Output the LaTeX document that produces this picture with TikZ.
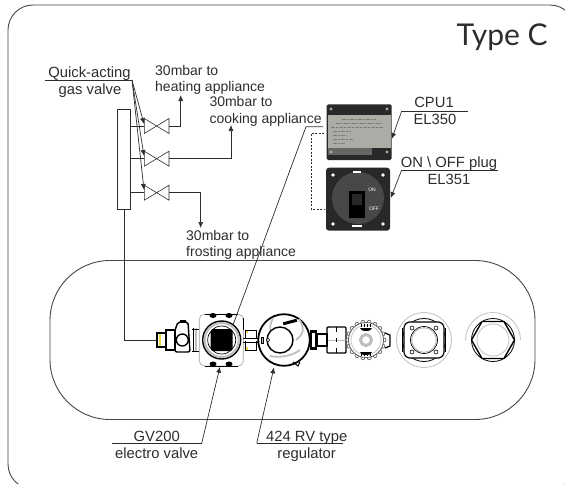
\documentclass[tikz,border=0pt]{standalone}
\usepackage{xcolor}
\usepackage{fontspec}
\setmainfont{Liberation Sans}
\newfontfamily\typefont{Lato}
\usetikzlibrary{arrows.meta,calc}
\definecolor{inkline}{RGB}{45,45,45}
\definecolor{frameline}{RGB}{70,70,70}
\definecolor{partgray}{RGB}{190,190,190}
\definecolor{brassmark}{RGB}{235,215,60}
\definecolor{photodark}{RGB}{40,40,40}
\definecolor{photomid}{RGB}{72,72,72}
\definecolor{photolabel}{RGB}{172,172,166}
\definecolor{phototext}{RGB}{125,125,120}
\tikzset{
    leader/.style={inkline, line width=0.7pt},
    leadertip/.style={inkline, line width=0.7pt, -{Latex[length=6pt,width=5pt]}},
    pipe/.style={inkline, line width=0.7pt},
    lbl/.style={font=\fontsize{14.8}{16}\selectfont, text=inkline, inner sep=0pt, anchor=base},
    lblleft/.style={lbl, anchor=base west},
    gaslbl/.style={lblleft, font=\fontsize{14}{16}\selectfont},
    blackpart/.style={black, line width=1.4pt},
    graypart/.style={partgray, line width=1pt},
    bolt/.style={black, line width=0.6pt, fill=white}
}
\begin{document}
\begin{tikzpicture}[x=1pt,y=-1pt]
    \useasboundingbox (0,0) rectangle (565,483);
    \clip (0,0) rectangle (565,483);

    % Frame and tank outline
    \draw[frameline, line width=0.9pt, rounded corners=25pt] (8,5) rectangle (575,489);
    \draw[frameline, line width=0.9pt, rounded corners=60pt] (50,260.5) rectangle (535,419.5);
    \node[lbl, anchor=base west, font=\typefont\fontsize{30}{32}\selectfont] (title) at (456.5,45) {Type C};

    % Gas manifold and valves
    \node[draw=inkline, line width=0.8pt, fill=white, minimum width=13.4pt, minimum height=100pt, inner sep=0pt] (manifold) at (124,159.3) {};
    \foreach \name/\y in {heat/126,cook/158.7,frost/192.7} {
        \draw[inkline, line width=0.6pt] (144.3,\y-7.5) -- (169,\y+7.5) -- (169,\y-7.5) -- (144.3,\y+7.5) -- cycle;
        \coordinate (\name-in) at (144.3,\y);
        \coordinate (\name-out) at (169,\y);
        \coordinate (\name-pipe) at (130.7,\y);
        \draw[pipe] (\name-pipe) -- (\name-in);
    }
    \coordinate (heat-end) at (180.7,95);
    \coordinate (cook-end) at (231,125);
    \coordinate (frost-end) at (200.7,228);
    \draw[leadertip] (heat-out) -| (heat-end);
    \draw[leadertip] (cook-out) -| (cook-end);
    \draw[leadertip] (frost-out) -| (frost-end);

    % Valve labels
    \node[lbl] (quick) at (89.5,77.3) {Quick-acting};
    \node[lbl] (gasvalve) at (90,94) {gas valve};
    \node[gaslbl] (heatA) at (155,75) {30mbar to};
    \node[gaslbl] (heatB) at (155,91.7) {heating appliance};
    \node[gaslbl] (cookA) at (209.3,106.7) {30mbar to};
    \node[gaslbl] (cookB) at (209.3,123.3) {cooking appliance};
    \node[gaslbl] (frostA) at (186,240.7) {30mbar to};
    \node[gaslbl] (frostB) at (186,256.7) {frosting appliance};

    \coordinate (quick-left) at (45,80);
    \coordinate (quick-right) at (132,80);
    \draw[leader] (quick-left) -- (quick-right);
    \foreach \name/\y in {heat/124,cook/156,frost/190} {
        \coordinate (\name-tip) at (144,\y);
        \draw[leadertip] (quick-right) -- (\name-tip);
    }

    % Pipe from manifold to the fitting
    \coordinate (manifold-foot) at (124,209.3);
    \coordinate (fitting-in) at (157,340);
    \draw[pipe] (manifold-foot) |- (fitting-in);

    % CPU photo
    \fill[photodark, rounded corners=1.5pt] (326.7,104.3) rectangle (391.7,160);
    \fill[photolabel] (328,115) rectangle (390.5,148);
    \fill[photomid!70!photolabel] (328,148) rectangle (372,155);
    \foreach \x/\y/\w in {342/119/34,336/123/46,331/127/52,333/131/18,333/135/14,333/139/20,333/143/12} {
        \draw[phototext, line width=0.5pt, dash pattern=on 4pt off 1pt on 2pt off 1pt] (\x,\y) -- ++(\w,0);
    }
    \foreach \x/\y in {331/109,387/109,331/152,387/152} {
        \fill[photolabel] (\x,\y) circle (1.6);
    }

    % ON/OFF plug photo
    \fill[photodark, rounded corners=3pt] (326,167.7) rectangle (390,230.7);
    \fill[photomid] (358,198) circle (26);
    \fill[black] (349,191) rectangle (365,218);
    \fill[photodark] (352,194) rectangle (362,205);
    \fill[white] (353,170.5) rectangle (361,172.5);
    \fill[white] (352,224.5) rectangle (362,227);
    \foreach \x/\y in {333/175,383/175,333/224,383/224} {
        \fill[white] (\x,\y) circle (1.8);
    }
    \node[white, font=\fontsize{5}{5}\selectfont, inner sep=0pt] (plugon) at (372,190) {ON};
    \node[white, font=\fontsize{5}{5}\selectfont, inner sep=0pt] (plugoff) at (374,209) {OFF};

    % Dashed wire between the photos
    \coordinate (wire-top) at (324,133);
    \coordinate (wire-bottom) at (324,209);
    \coordinate (wire-side) at (311,133);
    \draw[inkline, line width=0.7pt, dash pattern=on 2pt off 1.5pt] (wire-top) -- (wire-side) |- (wire-bottom);

    % CPU and plug labels
    \node[lbl] (cpu) at (434,107.7) {CPU1};
    \node[lbl] (elcpu) at (435,124.3) {EL350};
    \node[lblleft] (plug) at (400.7,167.3) {ON \textbackslash\ OFF plug};
    \node[lbl] (elplug) at (449,184) {EL351};
    \coordinate (cpu-left) at (401.7,111);
    \coordinate (cpu-right) at (467.7,111);
    \coordinate (cpu-tip) at (391.7,139);
    \coordinate (plug-left) at (401.7,170);
    \coordinate (plug-right) at (498,170);
    \coordinate (plug-tip) at (390.7,198);
    \draw[leader] (cpu-right) -- (cpu-left);
    \draw[leadertip] (cpu-left) -- (cpu-tip);
    \draw[leader] (plug-right) -- (plug-left);
    \draw[leadertip] (plug-left) -- (plug-tip);

    % Inlet fitting
    \draw[blackpart] (157,333) rectangle (166,347);
    \fill[brassmark] (159,334) rectangle (161,346);
    \draw[blackpart] (166,330) rectangle (175,350);
    \draw[blackpart, rounded corners=2pt] (175,330) -- (178,322) -- (188,322) -- (190,352) -- (175,352) -- cycle;
    \draw[blackpart] (182.3,340) circle (6);
    \fill[black] (180,320) rectangle (186,323);
    \draw[black, line width=0.8pt] (193,328) -- (193,352);
    \draw[graypart, line width=2pt] (196,328) -- (196,352);
    \draw[black, line width=0.8pt] (192,329) -- (199,329) (192,351) -- (199,351);

    % Electro valve
    \draw[partgray, line width=1pt, rounded corners=5pt] (199.3,314.3) rectangle (243.3,366);
    \draw[black, line width=0.8pt] (205,314.3) -- (238,314.3) (205,366) -- (238,366) (243.3,318) -- (243.3,330);
    \foreach \x in {213,229} {
        \fill[black] (\x,315.5) ellipse (3.5 and 2.5);
        \fill[black] (\x,364) ellipse (3.5 and 2.5);
    }
    \draw[black, line width=1.4pt, fill=white] (221.7,340) circle (19);
    \draw[partgray, line width=2pt] (221.7,340) circle (17);
    \draw[black, line width=0.7pt] (221.7,340) circle (14);
    \fill[black, rounded corners=3pt] (210.7,329) rectangle (232.7,351);
    \coordinate (valve-top) at (233,325);
    \coordinate (cooking-rule-right) at (323,126.7);
    \coordinate (cooking-rule-left) at (306,126.7);
    \draw[leader] (cooking-rule-right) -- (cooking-rule-left) -- (valve-top);

    % Joint between valve and regulator
    \draw[blackpart, line width=1pt] (245,330) rectangle (256,350);
    \draw[black, line width=0.8pt] (243,338) -- (258,338) (243,342) -- (258,342);
    \fill[white] (244,339) rectangle (258,341);
    \fill[brassmark] (246,330.5) rectangle (248,333);
    \fill[brassmark] (246,347) rectangle (248,349.5);

    % Regulator
    \draw[black, line width=1.8pt, fill=white] (284,340) circle (25.8);
    \draw[graypart, line width=1.8pt] (273,318) .. controls (268,328) and (270,334) .. (276,340);
    \draw[graypart, line width=1.8pt] (299,319) .. controls (305,328) and (304,334) .. (296,340);
    \draw[graypart, line width=1.8pt] (270,356) .. controls (280,358) and (292,356) .. (300,350);
    \draw[black, line width=1.4pt, fill=white] (280,340) circle (13);
    \draw[black, line width=0.6pt, fill=white] (268,340) circle (1.8);
    \draw[black, line width=0.8pt, fill=partgray] (261,337) rectangle (263.5,343);
    \fill[black, rotate around={15:(290,322)}] (283,320.5) rectangle (297,323.5);
    \draw[black, line width=1pt] (293,362) -- (298,366) -- (300,362);

    % Outlet fitting
    \fill[black] (310,330) rectangle (317,350);
    \fill[white] (312,333) rectangle (315,347);
    \draw[blackpart] (317,334) rectangle (327,346);
    \draw[blackpart, rounded corners=1pt] (327,327) rectangle (346,353);
    \draw[graypart] (328,340) -- (345,340);
    \draw[black, line width=1pt] (336.5,327) -- (336.5,332) (336.5,338) -- (336.5,342) (336.5,348) -- (336.5,353);

    % Knurled wheel
    \foreach \a in {0,20,...,340} {
        \draw[black!60, line width=0.7pt, fill=white] ($(366,340)+(\a:18)$) circle (2);
    }
    \draw[fill=white, draw=black!65, line width=0.8pt] (366,340) circle (17.5);
    \draw[partgray, line width=0.7pt] (366,340) circle (15);
    \draw[partgray, line width=3pt] (366,340) circle (5.5);
    \fill[black] (360,328) arc (180:0:6 and 3) -- cycle;
    \fill[black] (360,352) arc (180:360:6 and -3) -- cycle;
    \foreach \x in {361,364,367,370} {
        \draw[black, line width=1pt] (\x,324) -- (\x,327);
        \draw[black, line width=1pt] (\x,353) -- (\x,356);
    }
    \draw[black, line width=1.2pt] (385,333) -- (390,335) -- (390,346) -- (385,348);

    % Square flange disk
    \draw[partgray, line width=0.8pt] (424,340) circle (27.5);
    \draw[black, line width=0.8pt] (424,340) circle (21.5);
    \draw[black, line width=1.2pt, fill=white, rounded corners=6pt] (404,322) rectangle (444,358);
    \draw[black, line width=1.6pt] (402.5,328) -- (402.5,352) (445.5,328) -- (445.5,352);
    \draw[black, line width=0.7pt] (424,340) circle (13.5);
    \draw[partgray, line width=1pt] (424,340) circle (12.3);
    \foreach \dx/\dy in {-12/-12,12/-12,-12/12,12/12} {
        \draw[bolt] ($(424,340)+(\dx,\dy)$) circle (2);
    }

    % Hexagon plug
    \draw[black, line width=0.8pt] (471.5,340) arc (180:360:21.5);
    \draw[black, line width=0.8pt] (471.5,340) arc (180:0:21.5);
    \draw[partgray, line width=0.8pt] (465.5,340) arc (180:360:27.5);
    \draw[black, line width=1.4pt, line join=round] (471.5,340) -- (482,321.5) -- (504,321.5) -- (514.5,340) -- (504,358.5) -- (482,358.5) -- cycle;
    \draw[partgray, line width=0.8pt] (493,340) circle (16);

    % Lower labels
    \node[lbl] (gv) at (156.7,441.7) {GV200};
    \node[lbl] (electro) at (156.7,458.3) {electro valve};
    \node[lbl] (rv) at (306.7,441.7) {424 RV type};
    \node[lbl] (regulator) at (306.7,458.3) {regulator};
    \coordinate (gv-left) at (112.3,443.3);
    \coordinate (gv-right) at (201.7,443.3);
    \coordinate (gv-tip) at (220,366.7);
    \coordinate (rv-left) at (256.7,443.3);
    \coordinate (rv-right) at (343.3,443.3);
    \coordinate (rv-tip) at (274,367.3);
    \draw[leader] (gv-left) -- (gv-right);
    \draw[leadertip] (gv-right) -- (gv-tip);
    \draw[leader] (rv-right) -- (rv-left);
    \draw[leadertip] (rv-left) -- (rv-tip);
\end{tikzpicture}
\end{document}
